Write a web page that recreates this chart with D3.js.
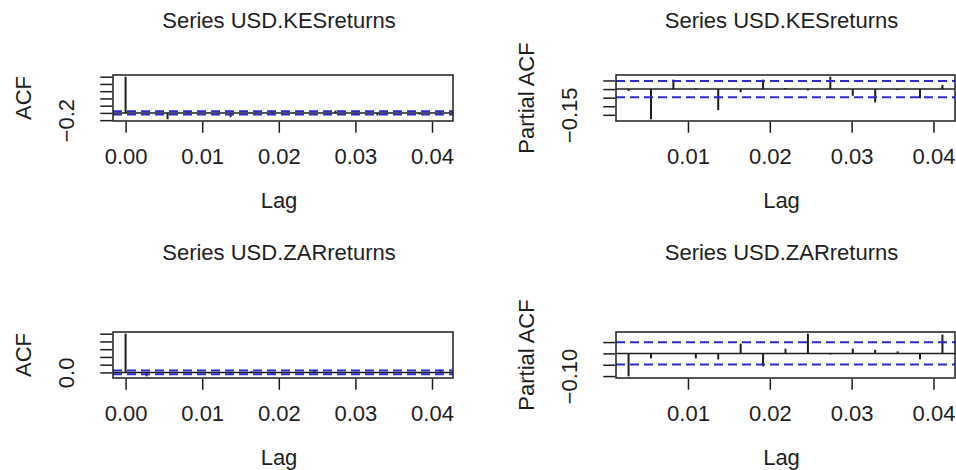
<!DOCTYPE html>
<html>
<head>
<meta charset="utf-8">
<script src="https://cdn.jsdelivr.net/npm/d3@7"></script>
<style>
  body { margin: 0; background: #fff; }
  svg { font-family: "Liberation Sans", Arial, sans-serif; }
</style>
</head>
<body>
<svg width="956" height="470"></svg>
<script>
// lags are in units of k / frequency (daily series, frequency 365)
var frequency = 365;
var acfLags = [0, 1, 2, 3, 4, 5, 6, 7, 8, 9, 10, 11, 12, 13, 14, 15];
var pacfLags = [1, 2, 3, 4, 5, 6, 7, 8, 9, 10, 11, 12, 13, 14, 15];

var kesAcf = [1, -0.012, -0.176, 0.05, 0.012, -0.12, -0.01, 0.045, 0.01, -0.012, 0.065, -0.035, -0.075, 0.004, -0.045, 0.02];
var kesPacf = [-0.012, -0.176, 0.055, 0.006, -0.123, -0.018, 0.055, 0.006, -0.008, 0.072, -0.039, -0.078, -0.006, -0.053, 0.025];
var zarAcf = [1, -0.10, -0.01, 0.002, -0.025, -0.03, 0.035, -0.05, 0.012, 0.07, -0.01, 0.018, 0.012, 0.008, -0.025, 0.075];
var zarPacf = [-0.101, -0.022, 0.001, -0.022, -0.027, 0.043, -0.058, 0.021, 0.087, -0.005, 0.021, 0.016, 0.009, -0.026, 0.083];

var kesCi = 0.047;
var zarCi = 0.049;

var acfXTicks = [0, 0.01, 0.02, 0.03, 0.04];
var pacfXTicks = [0.01, 0.02, 0.03, 0.04];
var kesAcfYTicks = [-0.2, 0, 0.2, 0.4, 0.6, 0.8, 1.0];
var zarAcfYTicks = [0, 0.2, 0.4, 0.6, 0.8, 1.0];
var kesPacfYTicks = [-0.15, -0.10, -0.05, 0, 0.05];
var zarPacfYTicks = [-0.10, -0.05, 0, 0.05];

var panels = [
    {title: "Series USD.KESreturns", ylab: "ACF", lags: acfLags, vals: kesAcf, ci: kesCi,
     xTicks: acfXTicks, yTicks: kesAcfYTicks, yShown: [-0.2], yFmt: ".1f",
     box: {x0: 113, x1: 453, y0: 75, y1: 121}, titleY: 28},
    {title: "Series USD.KESreturns", ylab: "Partial ACF", lags: pacfLags, vals: kesPacf, ci: kesCi,
     xTicks: pacfXTicks, yTicks: kesPacfYTicks, yShown: [-0.15], yFmt: ".2f",
     box: {x0: 616, x1: 955, y0: 75, y1: 121}, titleY: 28},
    {title: "Series USD.ZARreturns", ylab: "ACF", lags: acfLags, vals: zarAcf, ci: zarCi,
     xTicks: acfXTicks, yTicks: zarAcfYTicks, yShown: [0], yFmt: ".1f",
     box: {x0: 113, x1: 453, y0: 332, y1: 378}, titleY: 260},
    {title: "Series USD.ZARreturns", ylab: "Partial ACF", lags: pacfLags, vals: zarPacf, ci: zarCi,
     xTicks: pacfXTicks, yTicks: zarPacfYTicks, yShown: [-0.10], yFmt: ".2f",
     box: {x0: 616, x1: 955, y0: 332, y1: 378}, titleY: 260}
];

var svg = d3.select('svg');
var ink = '#1e1e1e';
var fontSize = 22;

// R style 4% extension of the data range
function extend(lo, hi) {
    var r = hi - lo;
    return [lo - 0.04 * r, hi + 0.04 * r];
}

panels.forEach(function(p) {
    var b = p.box;
    var xs = p.lags.map(function(k) { return k / frequency; });
    var lo = Math.min(d3.min(p.vals), -p.ci);
    var hi = Math.max(d3.max(p.vals), p.ci);

    var x = d3.scaleLinear().domain(extend(d3.min(xs), d3.max(xs))).range([b.x0, b.x1]);
    var y = d3.scaleLinear().domain(extend(lo, hi)).range([b.y1, b.y0]);

    var g = svg.append('g');

    // bars
    g.selectAll('line.bar')
        .data(p.vals)
        .enter()
        .append('line')
        .attr('class', 'bar')
        .attr('x1', function(d, i) { return x(xs[i]); })
        .attr('x2', function(d, i) { return x(xs[i]); })
        .attr('y1', y(0))
        .attr('y2', function(d) { return y(d); })
        .attr('stroke', ink)
        .attr('stroke-width', 2);

    // zero line
    g.append('line')
        .attr('x1', b.x0).attr('x2', b.x1)
        .attr('y1', y(0)).attr('y2', y(0))
        .attr('stroke', ink)
        .attr('stroke-width', 1.5);

    // confidence bounds
    g.selectAll('line.ci')
        .data([p.ci, -p.ci])
        .enter()
        .append('line')
        .attr('class', 'ci')
        .attr('x1', b.x0).attr('x2', b.x1)
        .attr('y1', function(d) { return y(d); })
        .attr('y2', function(d) { return y(d); })
        .attr('stroke', '#2b2bd0')
        .attr('stroke-width', 2)
        .attr('stroke-dasharray', '9,5');

    // box
    g.append('rect')
        .attr('x', b.x0).attr('y', b.y0)
        .attr('width', b.x1 - b.x0).attr('height', b.y1 - b.y0)
        .attr('fill', 'none')
        .attr('stroke', ink)
        .attr('stroke-width', 1.5);

    // x axis
    var xAxis = g.append('g')
        .attr('transform', 'translate(0,' + (b.y1 + 0.75) + ')')
        .call(d3.axisBottom(x).tickValues(p.xTicks).tickSize(11).tickPadding(16)
            .tickFormat(d3.format('.2f')));
    xAxis.select('.domain').remove();
    xAxis.selectAll('line').attr('stroke', ink).attr('stroke-width', 1.5);
    xAxis.selectAll('text')
        .attr('fill', ink)
        .style('font-size', fontSize + 'px');

    // y axis, labels parallel to axis as in R; crowded labels are dropped
    var yFmt = d3.format(p.yFmt);
    var yAxis = g.append('g')
        .attr('transform', 'translate(' + (b.x0 - 0.75) + ',0)')
        .call(d3.axisLeft(y).tickValues(p.yTicks).tickSize(12)
            .tickFormat(function(d) {
                var shown = p.yShown.some(function(s) { return Math.abs(s - d) < 1e-9; });
                return shown ? yFmt(d) : '';
            }));
    yAxis.select('.domain').remove();
    yAxis.selectAll('line').attr('stroke', ink).attr('stroke-width', 1.5);
    yAxis.selectAll('text')
        .attr('x', null).attr('dy', null)
        .attr('text-anchor', 'middle')
        .attr('transform', 'translate(-38,0) rotate(-90)')
        .attr('fill', ink)
        .style('font-size', fontSize + 'px');

    // title and axis labels
    g.append('text')
        .attr('x', (b.x0 + b.x1) / 2 - 4)
        .attr('y', p.titleY)
        .attr('text-anchor', 'middle')
        .attr('fill', ink)
        .style('font-size', fontSize + 'px')
        .text(p.title);

    g.append('text')
        .attr('x', (b.x0 + b.x1) / 2 - 4)
        .attr('y', b.y1 + 87)
        .attr('text-anchor', 'middle')
        .attr('fill', ink)
        .style('font-size', fontSize + 'px')
        .text('Lag');

    g.append('text')
        .attr('transform', 'translate(' + (b.x0 - 82) + ',' + ((b.y0 + b.y1) / 2) + ') rotate(-90)')
        .attr('text-anchor', 'middle')
        .attr('fill', ink)
        .style('font-size', fontSize + 'px')
        .text(p.ylab);
});
</script>
</body>
</html>
